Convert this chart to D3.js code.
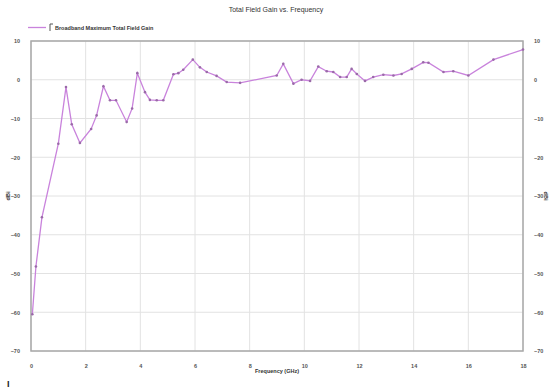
<!DOCTYPE html>
<html>
<head>
<meta charset="utf-8">
<script src="https://cdn.jsdelivr.net/npm/d3@7"></script>
<style>
  html, body { margin: 0; padding: 0; background: #fff; }
  svg { display: block; font-family: "Liberation Sans", Arial, sans-serif; }
</style>
</head>
<body>
<svg id="chart" width="553" height="388"></svg>
<script>
// Measured gain (dBi) against frequency (GHz)
const frequency = [0.05, 0.18, 0.4, 1.0, 1.28, 1.49, 1.79, 2.2, 2.4, 2.65, 2.89, 3.11, 3.5, 3.7, 3.89,
  4.17, 4.35, 4.6, 4.84, 5.21, 5.39, 5.57, 5.92, 6.18, 6.43, 6.79, 7.16, 7.65, 8.99, 9.23, 9.6, 9.9,
  10.21, 10.51, 10.82, 11.06, 11.31, 11.55, 11.73, 11.92, 12.22, 12.52, 12.89, 13.26, 13.56, 13.93,
  14.35, 14.54, 15.09, 15.45, 16.0, 16.92, 18.0];
const gain = [-60.5, -48.2, -35.5, -16.5, -1.9, -11.5, -16.3, -12.7, -9.2, -1.7, -5.3, -5.3, -10.9, -7.4, 1.7,
  -3.2, -5.2, -5.3, -5.3, 1.4, 1.7, 2.6, 5.2, 3.2, 2.0, 1.0, -0.6, -0.8, 1.1, 4.1, -1.0, 0.0,
  -0.3, 3.4, 2.2, 2.0, 0.7, 0.7, 2.8, 1.5, -0.3, 0.7, 1.3, 1.1, 1.5, 2.8,
  4.5, 4.4, 2.0, 2.2, 1.1, 5.2, 7.8];
const xTicks = [0, 2, 4, 6, 8, 10, 12, 14, 16, 18];
const yTicks = [10, 0, -10, -20, -30, -40, -50, -60, -70];
const seriesName = "Broadband Maximum Total Field Gain";

const svg = d3.select("#chart");
const plotL = 31, plotR = 523, plotT = 41, plotB = 351;
const lineColor = "#c983dc";

const x = d3.scaleLinear().domain([0, 18]).range([plotL, plotR]);
const y = d3.scaleLinear().domain([-70, 10]).range([plotB, plotT]);

// grid
svg.append("g").selectAll("line").data(xTicks).join("line")
  .attr("x1", d => x(d)).attr("x2", d => x(d)).attr("y1", plotT).attr("y2", plotB)
  .attr("stroke", "#e2e2e2").attr("stroke-width", 1);
svg.append("g").selectAll("line").data(yTicks).join("line")
  .attr("x1", plotL).attr("x2", plotR).attr("y1", d => y(d)).attr("y2", d => y(d))
  .attr("stroke", "#e2e2e2").attr("stroke-width", 1);

// frame
svg.append("rect").attr("x", plotL).attr("y", plotT)
  .attr("width", plotR - plotL).attr("height", plotB - plotT)
  .attr("fill", "none").attr("stroke", "#a8a8a8").attr("stroke-width", 1.5);

// axes
const tickStyle = g => {
  g.select(".domain").remove();
  g.selectAll(".tick line").remove();
  g.selectAll("text").attr("fill", "#555").attr("font-size", 5.5).attr("font-weight", "bold");
};
svg.append("g").attr("transform", `translate(0,${plotB})`)
  .call(d3.axisBottom(x).tickValues(xTicks).tickFormat(d3.format("d")).tickPadding(7))
  .call(tickStyle);
svg.append("g").attr("transform", `translate(${plotL},0)`)
  .call(d3.axisLeft(y).tickValues(yTicks).tickFormat(d3.format("d")).tickPadding(5))
  .call(tickStyle);
svg.append("g").attr("transform", `translate(${plotR},0)`)
  .call(d3.axisRight(y).tickValues(yTicks).tickFormat(d3.format("d")).tickPadding(5))
  .call(tickStyle);

// series
const pts = frequency.map((f, i) => [f, gain[i]]);
svg.append("path").datum(pts)
  .attr("fill", "none").attr("stroke", lineColor).attr("stroke-width", 1.3)
  .attr("d", d3.line().x(d => x(d[0])).y(d => y(d[1])));
svg.append("g").selectAll("circle").data(pts).join("circle")
  .attr("cx", d => x(d[0])).attr("cy", d => y(d[1])).attr("r", 1.3)
  .attr("fill", "#9a6aa8");

// titles
svg.append("text").attr("x", 276).attr("y", 12).attr("text-anchor", "middle")
  .attr("font-size", 7).attr("fill", "#333").text("Total Field Gain vs. Frequency");
svg.append("text").attr("x", 277).attr("y", 373).attr("text-anchor", "middle")
  .attr("font-size", 5.5).attr("font-weight", "bold").attr("fill", "#333").text("Frequency (GHz)");
svg.append("text").attr("transform", "translate(10,196) rotate(-90)").attr("text-anchor", "middle")
  .attr("font-size", 5.5).attr("font-weight", "bold").attr("fill", "#333").text("dBi");
svg.append("text").attr("transform", "translate(544,196) rotate(90)").attr("text-anchor", "middle")
  .attr("font-size", 5.5).attr("font-weight", "bold").attr("fill", "#333").text("dBi");

// legend
const lg = svg.append("g");
lg.append("line").attr("x1", 28).attr("x2", 46).attr("y1", 27.5).attr("y2", 27.5)
  .attr("stroke", lineColor).attr("stroke-width", 1.3);
lg.append("path").attr("d", "M50,31 V24 H53").attr("fill", "none")
  .attr("stroke", "#555").attr("stroke-width", 1);
lg.append("text").attr("x", 55).attr("y", 29.5).attr("font-size", 5.5).attr("font-weight", "bold")
  .attr("fill", "#333").text(seriesName);

// small mark in the lower-left corner
svg.append("text").attr("x", 7).attr("y", 387).attr("font-size", 9).attr("font-weight", "bold")
  .attr("fill", "#222").text("I");
</script>
</body>
</html>
